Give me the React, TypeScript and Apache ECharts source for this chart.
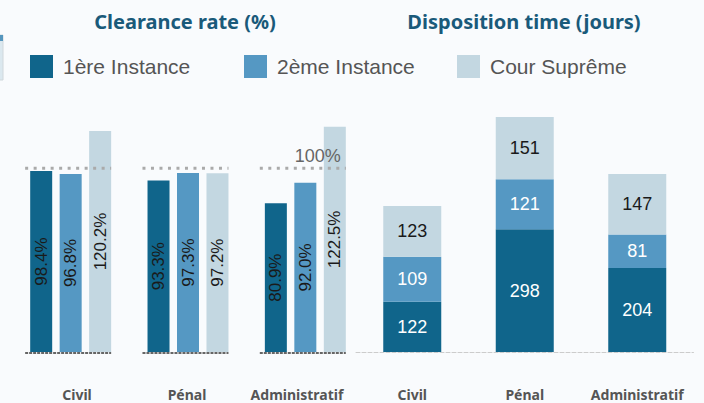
import React, { useEffect, useRef } from "react";
import * as echarts from "echarts";

const categories = ["Civil", "Pénal", "Administratif"];
const seriesNames = ["1ère Instance", "2ème Instance", "Cour Suprême"];
const clearanceFirst = [98.4, 93.3, 80.9];
const clearanceSecond = [96.8, 97.3, 92.0];
const clearanceSupreme = [120.2, 97.2, 122.5];
const referenceRate = [100, 100, 100];
const dispositionFirst = [122, 298, 204];
const dispositionSecond = [109, 121, 81];
const dispositionSupreme = [123, 151, 147];

const colors = ["#10658b", "#5598c3", "#c3d7e1"];
const titleColor = "#1a5a7a";
const catFont = "'Noto Sans', 'Open Sans', sans-serif";
const numFont = "'Liberation Sans', Arial, sans-serif";

export default function App() {
  const ref = useRef<HTMLDivElement>(null);
  useEffect(() => {
    if (!ref.current) return;
    const chart = echarts.init(ref.current, undefined, { renderer: "svg" });
    const clearance = [clearanceFirst, clearanceSecond, clearanceSupreme];
    const disposition = [dispositionFirst, dispositionSecond, dispositionSupreme];
    const legendLefts = [30, 244, 457];

    const leftBars = seriesNames.map((name, k) => ({
      name,
      type: "bar",
      xAxisIndex: 0,
      yAxisIndex: 0,
      data: clearance[k],
      barWidth: 22,
      barGap: "34%",
      itemStyle: { color: colors[k] },
      label: {
        show: true,
        position: "inside",
        rotate: 90,
        color: "#1a1a1a",
        fontSize: 17,
        fontFamily: numFont,
        formatter: (p: any) => Number(p.value).toFixed(1) + "%",
      },
      z: 2,
    }));

    const rightBars = seriesNames.map((name, k) => ({
      name,
      type: "bar",
      xAxisIndex: 1,
      yAxisIndex: 1,
      stack: "dt",
      data: disposition[k],
      barWidth: 58,
      itemStyle: { color: colors[k] },
      label: {
        show: true,
        position: "inside",
        color: k < 2 ? "#ffffff" : "#1a1a1a",
        fontSize: 18,
        fontFamily: numFont,
      },
    }));

    const refSeries = {
      type: "custom",
      xAxisIndex: 0,
      yAxisIndex: 0,
      z: 5,
      silent: true,
      data: referenceRate.map((v, i) => [i, v]),
      renderItem: (params: any, api: any) => {
        const i = api.value(0);
        const top = api.coord([i, api.value(1)]);
        const base = api.coord([i, 0]);
        const band = api.size([1, 0])[0];
        const x1 = top[0] - band * 0.388;
        const x2 = top[0] + band * 0.345;
        const children: any[] = [
          {
            type: "line",
            shape: { x1, y1: top[1], x2, y2: top[1] },
            style: { stroke: "#aaaaaa", lineWidth: 3, lineDash: [3, 5.5] },
          },
          {
            type: "line",
            shape: { x1, y1: base[1] + 1, x2, y2: base[1] + 1 },
            style: { stroke: "#666666", lineWidth: 2, lineDash: [3, 1] },
          },
        ];
        if (params.dataIndex === referenceRate.length - 1) {
          children.push({
            type: "text",
            x: x2 - 5,
            y: top[1] - 3,
            style: {
              text: api.value(1) + "%",
              fill: "#666666",
              fontSize: 18,
              fontFamily: numFont,
              align: "right",
              verticalAlign: "bottom",
            },
          });
        }
        return { type: "group", children };
      },
    };

    const labelStyle = {
      interval: 0,
      hideOverlap: false,
      margin: 35,
      color: "#555555",
      fontWeight: "bold",
      fontSize: 14,
      fontFamily: catFont,
    };

    chart.setOption({
      animation: false,
      backgroundColor: "#f9fbfd",
      grid: [
        { left: 12, width: 352, top: 113, bottom: 51 },
        { left: 356, width: 337.5, top: 80, bottom: 51 },
        { left: 22, width: 330, top: 113, bottom: 51 },
      ],
      xAxis: [
        {
          type: "category",
          data: categories,
          gridIndex: 0,
          axisLine: { show: false },
          axisTick: { show: false },
          axisLabel: { show: false },
        },
        {
          type: "category",
          data: categories,
          gridIndex: 1,
          axisTick: { show: false },
          axisLabel: labelStyle,
          axisLine: { show: true, lineStyle: { color: "#cccccc", type: [4, 2], width: 1 } },
        },
        {
          type: "category",
          data: categories,
          gridIndex: 2,
          axisLine: { show: false },
          axisTick: { show: false },
          axisLabel: labelStyle,
        },
      ],
      yAxis: [
        { type: "value", gridIndex: 0, min: 0, max: 130, show: false, splitLine: { show: false } },
        { type: "value", gridIndex: 1, min: 0, max: 660, show: false, splitLine: { show: false } },
        { type: "value", gridIndex: 2, min: 0, max: 130, show: false, splitLine: { show: false } },
      ],
      legend: seriesNames.map((name, k) => ({
        data: [name],
        left: legendLefts[k],
        top: 55,
        padding: 0,
        itemWidth: 23,
        itemHeight: 23,
        icon: "rect",
        selectedMode: false,
        textStyle: {
          color: "#555555",
          fontSize: 21,
          fontFamily: numFont,
          padding: [0, 0, 0, 5],
        },
      })),
      graphic: [
        {
          type: "text",
          x: 185,
          y: 21,
          style: {
            text: "Clearance rate (%)",
            fill: titleColor,
            fontSize: 20,
            fontWeight: "bold",
            fontFamily: catFont,
            align: "center",
            verticalAlign: "middle",
          },
        },
        {
          type: "text",
          x: 524,
          y: 21,
          style: {
            text: "Disposition time (jours)",
            fill: titleColor,
            fontSize: 20,
            fontWeight: "bold",
            fontFamily: catFont,
            align: "center",
            verticalAlign: "middle",
          },
        },
        {
          type: "rect",
          shape: { x: -10, y: 35, width: 13, height: 45 },
          style: { fill: "#dbe8ef", stroke: "#d0d8dc", lineWidth: 1 },
        },
        {
          type: "rect",
          shape: { x: -10, y: 35, width: 13, height: 6 },
          style: { fill: "#5596be" },
        },
      ],
      series: [...leftBars, ...rightBars, refSeries],
    });
    return () => chart.dispose();
  }, []);
  return (
    <div
      ref={ref}
      style={{ position: "absolute", left: 0, top: 0, width: 704, height: 403 }}
    />
  );
}
